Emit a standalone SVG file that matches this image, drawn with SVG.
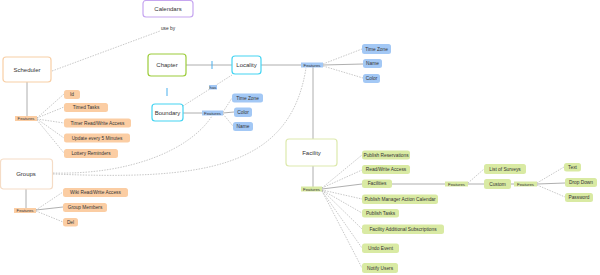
<svg xmlns="http://www.w3.org/2000/svg" width="600" height="275" viewBox="0 0 600 275">
<style>
text{font-family:"Liberation Sans",Arial,sans-serif;fill:#333;text-anchor:middle;dominant-baseline:central}
.node{fill:#fff;stroke-width:1.2}
.nt{font-size:6px}
.pt{font-size:4.8px}
.ft{font-size:4.3px}
.bl{fill:#a3c8f5}
.or{fill:#fbcda3}
.gr{fill:#d9eaa3}
.solid{stroke:#9a9a9a;stroke-width:0.8;fill:none}
.dash{stroke:#b0b0b0;stroke-width:0.7;fill:none;stroke-dasharray:1.5 1.2}
</style>
<g id="connectors">
<path class="dash" d="M52,71 L160,31"/>
<path class="solid" d="M186,65 L232,65"/>
<path class="dash" d="M183,106 L232,75"/>
<path class="solid" d="M261,65 L301,65"/>
<path class="dash" d="M323,64 L362,49"/>
<path class="solid" d="M323,65 L363,64"/>
<path class="dash" d="M323,66 L363,78"/>
<path class="solid" d="M313,67 L313,139"/>
<path class="solid" d="M183,113 L202,113"/>
<path class="dash" d="M223,112 L232,98"/>
<path class="solid" d="M223,113 L234,112"/>
<path class="dash" d="M223,114 L233,126"/>
<path class="dash" d="M53,173 C130,175 190,150 212,116"/>
<path class="dash" d="M53,174 C200,180 290,170 306,68"/>
<path class="solid" d="M27,82 L27,116"/>
<path class="dash" d="M37,118 L64,94"/>
<path class="dash" d="M37,118 L64,107"/>
<path class="dash" d="M37,119 L64,123"/>
<path class="dash" d="M37,119 L64,138"/>
<path class="dash" d="M37,120 L64,153"/>
<path class="solid" d="M26,189 L26,208"/>
<path class="dash" d="M36,210 L63,192"/>
<path class="solid" d="M36,210 L63,207"/>
<path class="dash" d="M36,211 L63,222"/>
<path class="solid" d="M313,166 L313,187"/>
<path class="dash" d="M322,188 L362,155"/>
<path class="dash" d="M322,188 L362,170"/>
<path class="solid" d="M322,189 L362,184"/>
<path class="dash" d="M322,190 L362,199"/>
<path class="dash" d="M322,190 L362,213"/>
<path class="dash" d="M322,190 L362,229"/>
<path class="dash" d="M322,191 L362,248"/>
<path class="dash" d="M322,191 L362,268"/>
<path class="solid" d="M392,184 L445,184"/>
<path class="dash" d="M468,183 L484,169"/>
<path class="solid" d="M468,184 L484,184"/>
<path class="solid" d="M511,184 L514,184"/>
<path class="dash" d="M537,183 L564,167"/>
<path class="solid" d="M537,184 L565,183"/>
<path class="dash" d="M537,185 L565,197"/>
<rect x="211.5" y="61" width="1" height="8" fill="#4ab0ee"/>
<rect x="166.5" y="88" width="1" height="8" fill="#4ab0ee"/>
<text class="pt" x="168" y="28">use by</text>
<rect class="bl" x="209" y="85" width="8" height="4.5"/>
<text class="ft" x="213" y="87.3">has</text>
</g>
<g id="calendars"><rect class="node" x="143" y="0.5" width="50" height="16.5" rx="3" stroke="#c6a6f0"/><text class="nt" x="168" y="8.5">Calendars</text></g>
<g id="scheduler"><rect class="node" x="3" y="57" width="48" height="25" rx="3" stroke="#f8cfa6"/><text class="nt" x="27" y="69.5">Scheduler</text></g>
<g id="chapter"><rect class="node" x="148" y="54" width="38" height="22" rx="3" stroke="#9ccc3a"/><text class="nt" x="167" y="65">Chapter</text></g>
<g id="locality"><rect class="node" x="232" y="56" width="29" height="18" rx="3" stroke="#44d4f2"/><text class="nt" x="246.5" y="65">Locality</text></g>
<g id="boundary"><rect class="node" x="152" y="104" width="31" height="17" rx="3" stroke="#44d4f2"/><text class="nt" x="167.5" y="112.5">Boundary</text></g>
<g id="groups"><rect class="node" x="0.5" y="159" width="52" height="30" rx="3" stroke="#f5dcc6"/><text class="nt" x="26" y="174">Groups</text></g>
<g id="facility"><rect class="node" x="286" y="139" width="51" height="27" rx="3" stroke="#dde9ad"/><text class="nt" x="311.5" y="152.5">Facility</text></g>
<g id="locality-features"><rect class="bl" x="301" y="62.5" width="22" height="5"/><text class="ft" x="312" y="65">Features</text></g>
<g id="loc-timezone"><rect class="bl" x="362" y="44" width="29" height="10" rx="2.5"/><text class="pt" x="376.5" y="49">Time Zone</text></g>
<g id="loc-name"><rect class="bl" x="363" y="59" width="19" height="9" rx="2.5"/><text class="pt" x="372.5" y="63.5">Name</text></g>
<g id="loc-color"><rect class="bl" x="363" y="74" width="17" height="9" rx="2.5"/><text class="pt" x="371.5" y="78.5">Color</text></g>
<g id="boundary-features"><rect class="bl" x="202" y="110.5" width="21" height="5"/><text class="ft" x="212.5" y="113">Features</text></g>
<g id="bnd-timezone"><rect class="bl" x="232" y="93.5" width="31" height="9" rx="2.5"/><text class="pt" x="247.5" y="98">Time Zone</text></g>
<g id="bnd-color"><rect class="bl" x="234" y="107.5" width="18" height="9.5" rx="2.5"/><text class="pt" x="243" y="112.3">Color</text></g>
<g id="bnd-name"><rect class="bl" x="233" y="122" width="20" height="9" rx="2.5"/><text class="pt" x="243" y="126.5">Name</text></g>
<g id="scheduler-features"><rect class="or" x="15" y="116" width="22" height="5"/><text class="ft" x="26" y="118.5">Features</text></g>
<g id="sch-id"><rect class="or" x="64" y="90" width="16" height="9" rx="2.5"/><text class="pt" x="72" y="94.5">Id</text></g>
<g id="sch-timed"><rect class="or" x="64" y="103" width="44" height="9" rx="2.5"/><text class="pt" x="86" y="107.5">Timed Tasks</text></g>
<g id="sch-access"><rect class="or" x="64" y="118.5" width="67" height="9" rx="2.5"/><text class="pt" x="97.5" y="123">Timer Read/Write Access</text></g>
<g id="sch-update"><rect class="or" x="64" y="133.5" width="66" height="9" rx="2.5"/><text class="pt" x="97" y="138">Update every 5 Minutes</text></g>
<g id="sch-reminders"><rect class="or" x="64" y="149" width="54" height="9" rx="2.5"/><text class="pt" x="91" y="153.5">Lottery Reminders</text></g>
<g id="groups-features"><rect class="or" x="14" y="208" width="22" height="5"/><text class="ft" x="25" y="210.5">Features</text></g>
<g id="grp-access"><rect class="or" x="63" y="188" width="65" height="9" rx="2.5"/><text class="pt" x="95.5" y="192.5">Wiki Read/Write Access</text></g>
<g id="grp-members"><rect class="or" x="63" y="203" width="44" height="9" rx="2.5"/><text class="pt" x="85" y="207.5">Group Members</text></g>
<g id="grp-del"><rect class="or" x="63" y="218" width="15" height="8.5" rx="2.5"/><text class="pt" x="70.5" y="222.3">Del</text></g>
<g id="facility-features"><rect class="gr" x="301" y="186.5" width="21" height="5"/><text class="ft" x="311.5" y="189">Features</text></g>
<g id="fac-reservations"><rect class="gr" x="362" y="150.5" width="48" height="9" rx="2.5"/><text class="pt" x="386" y="155">Publish Reservations</text></g>
<g id="fac-access"><rect class="gr" x="362" y="165" width="48" height="9" rx="2.5"/><text class="pt" x="386" y="169.5">Read/Write Access</text></g>
<g id="fac-facilities"><rect class="gr" x="362" y="179.5" width="30" height="8.5" rx="2.5"/><text class="pt" x="377" y="183.8">Facilities</text></g>
<g id="fac-calendar"><rect class="gr" x="362" y="194.5" width="76" height="9.5" rx="2.5"/><text class="pt" x="400" y="199.3">Publish Manager Action Calendar</text></g>
<g id="fac-tasks"><rect class="gr" x="362" y="209" width="37" height="8.5" rx="2.5"/><text class="pt" x="380.5" y="213.3">Publish Tasks</text></g>
<g id="fac-subscriptions"><rect class="gr" x="362" y="224.5" width="82" height="9.5" rx="2.5"/><text class="pt" x="403" y="229.3">Facility Additional Subscriptions</text></g>
<g id="fac-undo"><rect class="gr" x="362" y="243.5" width="37" height="9.5" rx="2.5"/><text class="pt" x="380.5" y="248.3">Undo Event</text></g>
<g id="fac-notify"><rect class="gr" x="362" y="263" width="36" height="10" rx="2.5"/><text class="pt" x="380" y="268">Notify Users</text></g>
<g id="facilities-features"><rect class="gr" x="445" y="181.5" width="23" height="5"/><text class="ft" x="456.5" y="184">Features</text></g>
<g id="list-surveys"><rect class="gr" x="484" y="164" width="42" height="10" rx="2.5"/><text class="pt" x="505" y="169">List of Surveys</text></g>
<g id="custom"><rect class="gr" x="484" y="179" width="27" height="10" rx="2.5"/><text class="pt" x="497.5" y="184">Custom</text></g>
<g id="custom-features"><rect class="gr" x="514" y="181.5" width="23" height="5"/><text class="ft" x="525.5" y="184">Features</text></g>
<g id="cst-text"><rect class="gr" x="564" y="163" width="17" height="8.5" rx="2.5"/><text class="pt" x="572.5" y="167.3">Text</text></g>
<g id="cst-dropdown"><rect class="gr" x="565" y="178" width="32" height="9" rx="2.5"/><text class="pt" x="581" y="182.5">Drop Down</text></g>
<g id="cst-password"><rect class="gr" x="565" y="193" width="28" height="9" rx="2.5"/><text class="pt" x="579" y="197.5">Password</text></g>
</svg>
